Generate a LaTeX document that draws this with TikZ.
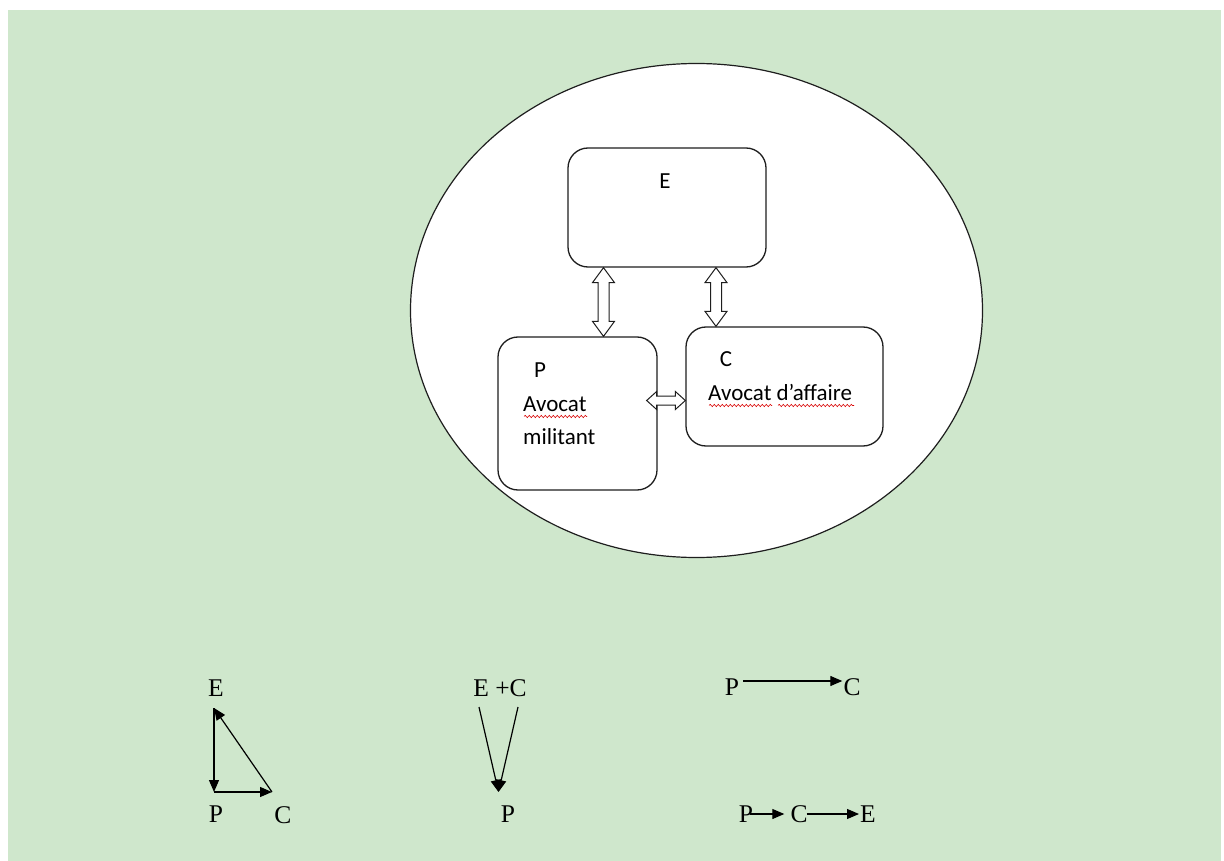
\documentclass[tikz,border=0pt]{standalone}
\usepackage{fontspec}
\setmainfont{Liberation Serif}
\newfontfamily\calfont{Carlito}
\usetikzlibrary{arrows.meta,calc,decorations.pathmorphing,shapes.geometric}
\definecolor{bggreen}{RGB}{207,231,204}
\definecolor{linegray}{RGB}{30,30,30}
\tikzset{
  boxstyle/.style={draw=linegray,line width=1.3pt,rounded corners=20pt,fill=white,inner sep=0pt},
  boxtext/.style={inner sep=0pt,font=\calfont\fontsize{23}{27}\selectfont},
  smalltext/.style={inner sep=0pt,font=\fontsize{25.5}{29}\selectfont},
  dblarrow/.style={draw=linegray,line width=1pt,fill=white,line join=miter},
  arr/.style={draw=black,line width=1.2pt,-{Triangle[length=12pt,width=10pt]}},
  spell/.style={draw=red!85!black,line width=0.6pt,decorate,decoration={snake,segment length=4pt,amplitude=1.1pt}}
}
\newcommand\vdblarr[2]{%
  \draw[dblarrow] (#1) -- ($(#1)+(11,15)$) -- ($(#1)+(5.5,15)$) -- ($(#2)+(5.5,-15)$) -- ($(#2)+(11,-15)$)
   -- (#2) -- ($(#2)+(-11,-15)$) -- ($(#2)+(-5.5,-15)$) -- ($(#1)+(-5.5,15)$) -- ($(#1)+(-11,15)$) -- cycle;}
\newcommand\hdblarr[2]{%
  \draw[dblarrow] (#1) -- ($(#1)+(10,-9)$) -- ($(#1)+(10,-4.5)$) -- ($(#2)+(-10,-4.5)$) -- ($(#2)+(-10,-9)$)
   -- (#2) -- ($(#2)+(-10,9)$) -- ($(#2)+(-10,4.5)$) -- ($(#1)+(10,4.5)$) -- ($(#1)+(10,9)$) -- cycle;}
\begin{document}
\begin{tikzpicture}[x=1pt,y=-1pt]
\useasboundingbox (0,0) rectangle (1224,861);
\fill[white] (0,0) rectangle (1224,861);
\fill[bggreen] (8,10) rectangle (1221,861);

% ellipse
\node[draw=linegray,line width=1.2pt,fill=white,ellipse,minimum width=572pt,minimum height=494pt,inner sep=0pt] (ell) at (696.5,310.5) {};

% boxes
\node[boxstyle,minimum width=198pt,minimum height=119pt] (E) at (667,207.5) {};
\node[boxstyle,minimum width=159pt,minimum height=153pt] (P) at (577.5,413.5) {};
\node[boxstyle,minimum width=197pt,minimum height=119pt] (C) at (784.5,386.5) {};

% box texts
\node[boxtext] (tE) at (665,181) {E};
\node[boxtext] (tP) at (540,370) {P};
\node[boxtext,anchor=west] (tP1) at (523,404) {Avocat};
\node[boxtext,anchor=west] (tP2) at (523,437) {militant};
\node[boxtext] (tC) at (726,359) {C};
\node[boxtext,anchor=west] (tC1) at (708,392.5) {Avocat d’affaire};

% spell-check underlines
\draw[spell] (524,416.5) -- (587,416.5);
\draw[spell] (709,405.5) -- (772,405.5);
\draw[spell] (778,405.5) -- (854,405.5);

% double arrows
\coordinate (a1) at (E.south -| 603.5,0);
\coordinate (b1) at (P.north -| 603.5,0);
\coordinate (a2) at (E.south -| 716,0);
\coordinate (b2) at (C.north -| 716,0);
\coordinate (a3) at ($(P.east |- 0,400.5)+(-11,0)$);
\coordinate (b3) at (C.west |- 0,400.5);
\vdblarr{a1}{b1}
\vdblarr{a2}{b2}
\hdblarr{a3}{b3}

% bottom left triangle
\node[smalltext] (E1) at (216,688) {E};
\node[smalltext] (P1) at (216,814) {P};
\node[smalltext] (C1) at (283,815) {C};
\coordinate (k1) at (214,708);
\coordinate (k2) at (214,792);
\coordinate (k3) at (272,792);
\draw[arr] (k1) -- (k2);
\draw[arr] (k2) -- (k3);
\draw[arr] (k3) -- (k1);

% V diagram
\node[smalltext] (EC) at (500,688) {E +C};
\node[smalltext] (P2) at (508,814) {P};
\coordinate (v1) at (479,707);
\coordinate (v2) at (518,707);
\coordinate (v3) at (498.5,792);
\draw[arr] (v1) -- (v3);
\draw[arr] (v2) -- (v3);

% right: P -> C
\node[smalltext] (P3) at (732,687) {P};
\node[smalltext] (C3) at (852,687) {C};
\draw[arr] ([xshift=4pt,yshift=6pt]P3.east) -- ([xshift=-1pt,yshift=6pt]C3.west);

% right: P -> C -> E
\node[smalltext] (P4) at (746,814) {P};
\node[smalltext] (C4) at (799,814) {C};
\node[smalltext] (E4) at (868,814) {E};
\draw[arr] ([xshift=-3pt]P4.east) -- ([xshift=-6pt]C4.west);
\draw[arr] ([xshift=-1pt]C4.east) -- ([xshift=-1pt]E4.west);
\end{tikzpicture}
\end{document}
